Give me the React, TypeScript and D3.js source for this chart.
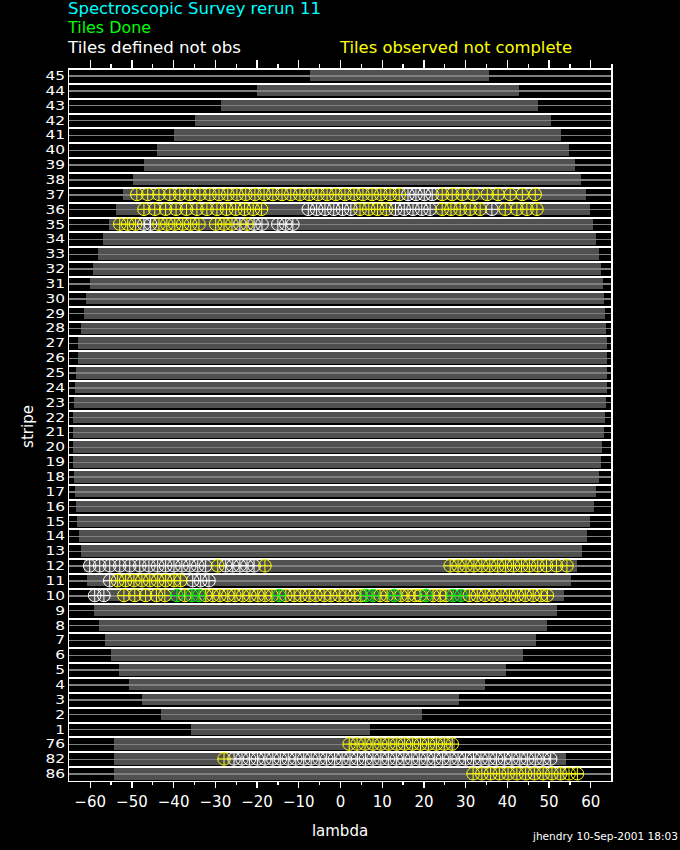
import * as d3 from "d3";
import { useEffect, useRef } from "react";

const W = 680;
const H = 850;

// stripes, top to bottom
const stripes = [
  "45", "44", "43", "42", "41", "40", "39", "38", "37", "36", "35", "34", "33", "32", "31", "30",
  "29", "28", "27", "26", "25", "24", "23", "22", "21", "20", "19", "18", "17", "16", "15", "14",
  "13", "12", "11", "10", "9", "8", "7", "6", "5", "4", "3", "2", "1", "76", "82", "86",
];

// lambda extent of each stripe (same order as stripes)
const lambdaStart = [
  -7.2, -19.9, -28.6, -34.8, -39.8, -43.9, -47.0, -49.7, -52.1, -53.8, -55.4, -56.9, -58.1, -59.3, -60.0, -61.0,
  -61.4, -62.2, -62.7, -62.9, -63.4, -63.6, -63.8, -64.1, -64.1, -64.1, -64.1, -63.8, -63.6, -63.4, -63.1, -62.6,
  -62.2, -61.4, -60.7, -60.0, -59.0, -57.8, -56.4, -55.0, -53.0, -50.6, -47.5, -43.0, -35.8, -54.2, -54.2, -54.2,
];
const lambdaEnd = [
  35.8, 43.0, 47.5, 50.6, 53.0, 55.0, 56.4, 57.8, 59.0, 60.0, 60.7, 61.4, 62.2, 62.6, 63.1, 63.4,
  63.6, 63.8, 64.1, 64.1, 64.1, 64.1, 63.8, 63.6, 63.4, 62.9, 62.6, 62.2, 61.4, 61.0, 60.0, 59.3,
  58.1, 56.9, 55.4, 53.8, 52.1, 49.7, 47.0, 43.9, 39.8, 34.8, 28.6, 19.7, 7.2, 27.6, 54.2, 54.2,
];

const xMajor = [-60, -50, -40, -30, -20, -10, 0, 10, 20, 30, 40, 50, 60];
const xMinor = [-55, -45, -35, -25, -15, -5, 5, 15, 25, 35, 45, 55];

// tile centres (lambda) per stripe
const tilesDefined: [string, number[]][] = [
  ["37", [16.3, 18.2, 20.2, 22.1]],
  ["36", [-7.6, -5.6, -3.6, -1.5, 0.6, 2.6, 13.3, 15.4, 17.5, 19.6, 21.6, 36.4]],
  ["35", [-47.0, -45.4, -24.0, -20.6, -18.7, -14.9, -13.0, -11.3]],
  ["12", [-60.0, -57.6, -55.2, -52.8, -50.4, -48.0, -45.8, -43.7, -41.8, -39.8, -37.9, -36.0, -34.1, -32.2,
    -27.4, -25.7, -24.0, -22.3, -20.6]],
  ["11", [-55.2, -35.3, -33.4, -31.4]],
  ["10", [-58.8, -56.6]],
  ["82", [-25.4, -23.5, -21.7, -19.8, -18.0, -16.1, -14.3, -12.4, -10.6, -8.7, -6.9, -5.0, -3.2, -1.3, 0.5,
    2.4, 4.2, 6.1, 7.9, 9.8, 11.6, 13.5, 15.3, 17.2, 19.0, 20.9, 22.7, 24.6, 26.4, 28.3, 30.1, 32.0, 33.8,
    35.7, 37.5, 39.4, 41.2, 43.1, 44.9, 46.8, 48.7, 50.5]],
];

const tilesObserved: [string, number[]][] = [
  ["37", [-48.7, -46.1, -43.4, -40.8, -38.4, -36.0, -33.6, -31.2, -29.0, -26.9, -24.7, -22.6, -20.4, -18.2,
    -16.1, -13.9, -11.8, -9.6, -7.4, -5.3, -3.1, -1.0, 1.2, 3.4, 5.5, 7.7, 9.8, 12.0, 14.2,
    24.5, 26.9, 29.3, 31.9, 35.3, 37.9, 40.8, 43.7, 46.8]],
  ["36", [-47.0, -44.4, -41.8, -39.3, -36.8, -34.3, -31.9, -29.5, -27.2, -25.0, -22.9, -20.8, -18.8,
    4.8, 6.9, 9.0, 11.1, 24.5, 26.6, 28.8, 31.2, 33.6, 39.6, 42.4, 44.8, 47.2]],
  ["35", [-52.8, -50.9, -49.0, -43.4, -41.5, -39.6, -37.7, -35.8, -33.8, -29.8, -27.8, -25.9, -22.3]],
  ["12", [-29.3, -18.0, 26.4, 28.3, 30.2, 32.1, 34.0, 35.9, 37.8, 39.7, 41.6, 43.5, 45.4, 47.4, 49.5, 51.9, 54.4]],
  ["11", [-53.3, -51.4, -49.4, -47.5, -45.6, -43.7, -41.8, -39.8, -38.2]],
  ["10", [-51.8, -49.2, -46.6, -44.0, -42.0, -37.2, -32.2, -30.5, -28.8, -26.9, -25.2, -23.3, -21.6, -19.7,
    -18.0, -16.3, -13.0, -11.0, -9.4, -7.4, -5.8, -3.8, -2.2, -0.2, 1.4, 3.4, 5.0, 9.6, 11.3, 14.6, 16.3,
    18.0, 19.2, 22.3, 24.0, 25.4, 31.0, 32.9, 34.8, 36.7, 38.6, 40.6, 42.5, 44.4, 46.3, 48.2, 49.7]],
  ["76", [2.2, 4.1, 6.0, 7.9, 9.8, 11.7, 13.6, 15.5, 17.4, 19.3, 21.2, 23.1, 25.0, 26.9]],
  ["82", [-27.8]],
  ["86", [31.9, 34.0, 36.1, 38.2, 40.3, 42.4, 44.5, 46.6, 48.7, 50.8, 52.9, 54.9, 56.9]],
];

const tilesDone: [string, number[]][] = [
  ["10", [-39.1, -35.5, -33.8, -14.6, 6.2, 7.9, 13.0, 20.6, 27.1, 29.0]],
];

export default function App() {
  const ref = useRef<SVGSVGElement | null>(null);

  useEffect(() => {
    const svg = d3.select(ref.current);
    svg.selectAll("*").remove();
    const font = "'DejaVu Sans', sans-serif";

    svg.append("rect").attr("width", W).attr("height", H).attr("fill", "#000");

    const x = d3.scaleLinear().domain([-65.2, 65.2]).range([68, 612]);
    const y = d3.scaleBand<string>().domain(stripes).range([68, 781]);
    const bw = y.bandwidth();

    const rows = svg.append("g").attr("shape-rendering", "crispEdges");

    // grey extent of each stripe
    rows.selectAll("rect.bar")
      .data(stripes)
      .enter()
      .append("rect")
      .attr("class", "bar")
      .attr("x", (_, i) => x(lambdaStart[i]))
      .attr("width", (_, i) => x(lambdaEnd[i]) - x(lambdaStart[i]))
      .attr("y", d => y(d)! + 2)
      .attr("height", bw - 3.4)
      .attr("fill", "#505050");

    // white separator on top of each stripe
    rows.selectAll("rect.sep")
      .data(stripes)
      .enter()
      .append("rect")
      .attr("class", "sep")
      .attr("x", x.range()[0])
      .attr("width", x.range()[1] - x.range()[0])
      .attr("y", d => y(d)!)
      .attr("height", 2)
      .attr("fill", "#fff");

    // stripe centre line
    rows.selectAll("line.mid")
      .data(stripes)
      .enter()
      .append("line")
      .attr("class", "mid")
      .attr("x1", x.range()[0])
      .attr("x2", x.range()[1])
      .attr("y1", d => y(d)! + 8)
      .attr("y2", d => y(d)! + 8)
      .attr("stroke", "#808080")
      .attr("stroke-width", 1.4);

    // tiles
    const r = 6.3;
    const drawTiles = (list: [string, number[]][], color: string) => {
      const pts = list.flatMap(([s, ls]) => ls.map(l => ({ cx: x(l), cy: y(s)! + 7.6 })));
      const g = svg.append("g").attr("stroke", color).attr("fill", "none").attr("stroke-width", 1);
      const t = g.selectAll("g").data(pts).enter().append("g");
      t.append("circle").attr("cx", d => d.cx).attr("cy", d => d.cy).attr("r", r);
      t.append("line")
        .attr("x1", d => d.cx - r).attr("x2", d => d.cx + r)
        .attr("y1", d => d.cy).attr("y2", d => d.cy);
      t.append("line")
        .attr("x1", d => d.cx).attr("x2", d => d.cx)
        .attr("y1", d => d.cy - r).attr("y2", d => d.cy + r);
    };
    drawTiles(tilesDefined, "#ffffff");
    drawTiles(tilesObserved, "#ffff00");
    drawTiles(tilesDone, "#00ff00");

    // axes
    const fmt = (d: d3.NumberValue) => (+d < 0 ? "\u2212" + Math.abs(+d) : String(d));
    const styleAxis = (g: d3.Selection<SVGGElement, unknown, null, undefined>, size = 15) => {
      g.selectAll("path.domain").attr("stroke", "#fff").attr("stroke-width", 1.6);
      g.selectAll(".tick line").attr("stroke", "#fff").attr("stroke-width", 1.2);
      g.selectAll("text").attr("fill", "#fff").attr("font-family", font).attr("font-size", size);
    };

    const bottom = svg.append("g").attr("transform", "translate(0,781)").attr("shape-rendering", "crispEdges")
      .call(d3.axisBottom(x).tickValues(xMajor).tickSize(7).tickSizeOuter(0).tickPadding(8).tickFormat(fmt));
    styleAxis(bottom);
    const bottomMinor = svg.append("g").attr("transform", "translate(0,781)").attr("shape-rendering", "crispEdges")
      .call(d3.axisBottom(x).tickValues(xMinor).tickSize(4).tickSizeOuter(0).tickFormat(() => ""));
    styleAxis(bottomMinor);

    const top = svg.append("g").attr("transform", "translate(0,68)").attr("shape-rendering", "crispEdges")
      .call(d3.axisTop(x).tickValues(xMajor).tickSize(8).tickSizeOuter(0).tickFormat(() => ""));
    styleAxis(top);
    const topMinor = svg.append("g").attr("transform", "translate(0,68)").attr("shape-rendering", "crispEdges")
      .call(d3.axisTop(x).tickValues(xMinor).tickSize(4).tickSizeOuter(0).tickFormat(() => ""));
    styleAxis(topMinor);

    const left = svg.append("g").attr("transform", "translate(68,0)").attr("shape-rendering", "crispEdges")
      .call(d3.axisLeft(y).tickSize(0).tickSizeOuter(0).tickPadding(3));
    styleAxis(left, 12.6);
    left.selectAll<SVGTextElement, string>(".tick text")
      .attr("dy", "0.36em")
      .attr("textLength", d => d.length * 9.8)
      .attr("lengthAdjust", "spacingAndGlyphs");

    svg.append("line")
      .attr("x1", 612).attr("x2", 612).attr("y1", 64).attr("y2", 781)
      .attr("stroke", "#fff").attr("stroke-width", 1.6).attr("shape-rendering", "crispEdges");

    // axis titles
    svg.append("text")
      .attr("transform", "translate(33,426.5) rotate(-90)")
      .attr("text-anchor", "middle")
      .attr("fill", "#fff").attr("font-family", font).attr("font-size", 15)
      .text("stripe");
    svg.append("text")
      .attr("x", 340).attr("y", 836)
      .attr("text-anchor", "middle")
      .attr("fill", "#fff").attr("font-family", font).attr("font-size", 15)
      .text("lambda");
    svg.append("text")
      .attr("x", 533).attr("y", 840)
      .attr("textLength", 145).attr("lengthAdjust", "spacingAndGlyphs")
      .attr("fill", "#fff").attr("font-family", font).attr("font-size", 10)
      .text("jhendry 10-Sep-2001 18:03");

    // legend / title lines
    const head: [string, string, number, number, number][] = [
      ["Spectroscopic Survey rerun 11", "#00ffff", 68, 14, 253],
      ["Tiles Done", "#00ff00", 68, 32.5, 83],
      ["Tiles defined not obs", "#ffffff", 68, 53.3, 173],
      ["Tiles observed not complete", "#ffff00", 340, 53.3, 232],
    ];
    svg.selectAll("text.head")
      .data(head)
      .enter()
      .append("text")
      .attr("class", "head")
      .attr("x", d => d[2])
      .attr("y", d => d[3])
      .attr("textLength", d => d[4])
      .attr("lengthAdjust", "spacingAndGlyphs")
      .attr("fill", d => d[1])
      .attr("font-family", font)
      .attr("font-size", 15)
      .text(d => d[0]);
  }, []);

  return (
    <svg
      ref={ref}
      width={W}
      height={H}
      style={{ position: "absolute", left: 0, top: 0, display: "block" }}
    />
  );
}
